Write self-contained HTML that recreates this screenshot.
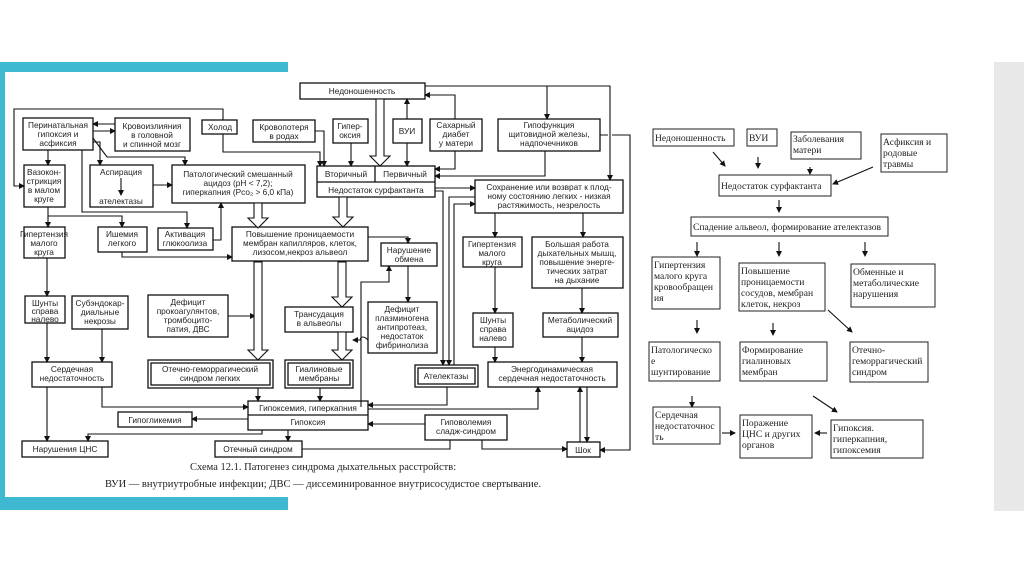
<!DOCTYPE html>
<html><head><meta charset="utf-8">
<style>
html,body{margin:0;padding:0;background:#fff;}
svg{display:block;}
.s{font-family:"Liberation Sans","DejaVu Sans",sans-serif;font-size:8.3px;fill:#222;}
.r{font-family:"Liberation Serif","DejaVu Serif",serif;font-size:9.6px;fill:#222;}
.c{font-family:"Liberation Serif","DejaVu Serif",serif;font-size:10.5px;fill:#222;}
</style></head>
<body>
<svg width="1024" height="574" viewBox="0 0 1024 574" xmlns="http://www.w3.org/2000/svg">
<defs>
<marker id="a" markerWidth="6" markerHeight="6" refX="5" refY="3" orient="auto" markerUnits="userSpaceOnUse"><path d="M0,0 L6,3 L0,6 z" fill="#111"/></marker>
</defs>
<rect x="0" y="62" width="288" height="10" fill="#3fb9d2"/>
<rect x="0" y="62" width="5" height="448" fill="#3fb9d2"/>
<rect x="0" y="497" width="288" height="13" fill="#3fb9d2"/>
<rect x="994" y="62" width="30" height="449" fill="#e8e8e8"/>

<g fill="none" stroke="#111" stroke-width="1.3">
<!-- boxes left -->
<rect x="23" y="118" width="70" height="32"/>
<rect x="115" y="118" width="75" height="33"/>
<rect x="202" y="120" width="35" height="14"/>
<rect x="253" y="120" width="62" height="22"/>
<rect x="24" y="165" width="41" height="42"/>
<rect x="90" y="165" width="63" height="42"/>
<rect x="172" y="165" width="133" height="38"/>
<rect x="24" y="227" width="41" height="31"/>
<rect x="98" y="227" width="49" height="25"/>
<rect x="158" y="228" width="55" height="22"/>
<rect x="232" y="227" width="136" height="34"/>
<rect x="300" y="83" width="125" height="16"/>
<rect x="333" y="119" width="35" height="24"/>
<rect x="393" y="119" width="29" height="24"/>
<rect x="430" y="119" width="52" height="32"/>
<rect x="498" y="119" width="102" height="32"/>
<rect x="317" y="166" width="118" height="31"/>
<line x1="317" y1="182" x2="435" y2="182"/><line x1="375" y1="166" x2="375" y2="182"/>
<rect x="475" y="180" width="148" height="33"/>
<rect x="381" y="243" width="56" height="23"/>
<rect x="463" y="237" width="59" height="30"/>
<rect x="532" y="237" width="91" height="51"/>
<rect x="25" y="296" width="40" height="27"/>
<rect x="72" y="296" width="56" height="33"/>
<rect x="148" y="295" width="80" height="42"/>
<rect x="285" y="307" width="68" height="25"/>
<rect x="368" y="302" width="69" height="51"/>
<rect x="473" y="313" width="40" height="34"/>
<rect x="543" y="313" width="75" height="24"/>
<rect x="32" y="362" width="80" height="25"/>
<rect x="148" y="360" width="125" height="28"/><rect x="151" y="363" width="119" height="22"/>
<rect x="285" y="360" width="68" height="28"/><rect x="288" y="363" width="62" height="22"/>
<rect x="415" y="365" width="63" height="22"/><rect x="418" y="368" width="57" height="16"/>
<rect x="488" y="362" width="129" height="25"/>
<rect x="248" y="401" width="120" height="29"/><line x1="248" y1="415" x2="368" y2="415"/>
<rect x="118" y="412" width="74" height="15"/>
<rect x="425" y="415" width="82" height="25"/>
<rect x="22" y="441" width="86" height="16"/>
<rect x="215" y="441" width="87" height="16"/>
<rect x="567" y="442" width="33" height="15"/>
</g>

<!-- connectors -->
<g fill="none" stroke="#111" stroke-width="1.1">
<path d="M223,120 V109 H14 V186 H24" marker-end="url(#a)"/>
<path d="M115,124 H93" marker-end="url(#a)"/><path d="M93,131 H115" marker-end="url(#a)"/>
<path d="M48,150 V165" marker-end="url(#a)"/>
<path d="M93,142 H100 V165" marker-end="url(#a)"/>
<path d="M93,138 L107,157 H185 V165" marker-end="url(#a)"/>
<path d="M82,150 V212 H187 V228" marker-end="url(#a)"/>
<path d="M48,207 V227" marker-end="url(#a)"/>
<path d="M48,216 H122 V227" marker-end="url(#a)"/>
<path d="M121,178 V195" marker-end="url(#a)"/>
<path d="M153,185 H172" marker-end="url(#a)"/>
<path d="M213,240 H221 V203" marker-end="url(#a)"/>
<path d="M122,252 V257 H232" marker-end="url(#a)"/>
<path d="M223,134 V152 H320 V166" marker-end="url(#a)"/>
<path d="M315,131 H324 V166" marker-end="url(#a)"/>
<path d="M351,143 V166" marker-end="url(#a)"/>
<path d="M407,119 V99" marker-end="url(#a)"/>
<path d="M407,143 V166" marker-end="url(#a)"/>
<path d="M455,119 V95 H425" marker-end="url(#a)"/>
<path d="M455,151 V169 H435" marker-end="url(#a)"/>
<path d="M545,151 V176 H435" marker-end="url(#a)"/>
<path d="M425,86 H610 V180" marker-end="url(#a)"/>
<path d="M547,86 V119" marker-end="url(#a)"/>
<path d="M600,135 H608 M612,135 H630 V450 H600" marker-end="url(#a)"/>
<path d="M435,188 H475" marker-end="url(#a)"/>
<path d="M435,191 H443 V365" marker-end="url(#a)"/>
<path d="M475,197 H449 V365" marker-end="url(#a)"/>
<path d="M454,365 V204 H475" marker-end="url(#a)"/>
<path d="M495,213 V237" marker-end="url(#a)"/>
<path d="M583,213 V237" marker-end="url(#a)"/>
<path d="M495,267 V313" marker-end="url(#a)"/>
<path d="M495,347 V362" marker-end="url(#a)"/>
<path d="M582,288 V313" marker-end="url(#a)"/>
<path d="M582,337 V362" marker-end="url(#a)"/>
<path d="M580,442 V387" marker-end="url(#a)"/>
<path d="M587,387 V442" marker-end="url(#a)"/>
<path d="M368,409 H538 V387" marker-end="url(#a)"/>
<path d="M447,387 V405 H368" marker-end="url(#a)"/>
<path d="M425,424 H368" marker-end="url(#a)"/>
<path d="M482,440 V449 H567" marker-end="url(#a)"/>
<path d="M302,449 H450 V440"/>
<path d="M288,430 V441" marker-end="url(#a)"/>
<path d="M262,430 V434 H88 V441" marker-end="url(#a)"/>
<path d="M248,419 H192" marker-end="url(#a)"/>
<path d="M47,258 V296" marker-end="url(#a)"/>
<path d="M47,323 V362" marker-end="url(#a)"/>
<path d="M102,329 V362" marker-end="url(#a)"/>
<path d="M47,387 V441" marker-end="url(#a)"/>
<path d="M102,387 V407 H248" marker-end="url(#a)"/>
<path d="M228,316 H255" marker-end="url(#a)"/>
<path d="M258,388 V401" marker-end="url(#a)"/>
<path d="M320,388 V401" marker-end="url(#a)"/>
<path d="M368,237 H408 V243" marker-end="url(#a)"/>
<path d="M408,266 V302" marker-end="url(#a)"/>
<path d="M361,407 V282 H389 V266" marker-end="url(#a)"/>
<path d="M368,340 Q362,334 360,340 H353" marker-end="url(#a)"/>
</g>
<!-- hollow arrows -->
<g fill="#fff" stroke="#111" stroke-width="1.1">
<path d="M254,203 H262 V218 H268 L258,228 L248,218 H254 Z"/>
<path d="M254,262 H262 V350 H268 L258,360 L248,350 H254 Z"/>
<path d="M339,197 H347 V217 H353 L343,227 L333,217 H339 Z"/>
<path d="M376,99 H384 V156 H390 L380,166 L370,156 H376 Z"/>
<path d="M338,262 H346 V297 H352 L342,307 L332,297 H338 Z"/>
<path d="M338,332 H346 V350 H352 L342,360 L332,350 H338 Z"/>
</g>

<g class="s" text-anchor="middle">
<text x="58" y="128">Перинатальная</text><text x="58" y="137">гипоксия и</text><text x="58" y="146">асфиксия</text>
<text x="152" y="129">Кровоизлияния</text><text x="152" y="138">в головной</text><text x="152" y="147">и спинной мозг</text>
<text x="220" y="130">Холод</text>
<text x="284" y="130">Кровопотеря</text><text x="284" y="139">в родах</text>
<text x="44" y="175">Вазокон-</text><text x="44" y="184">стрикция</text><text x="44" y="193">в малом</text><text x="44" y="202">круге</text>
<text x="121" y="175">Аспирация</text><text x="121" y="204">ателектазы</text>
<text x="238" y="177">Патологический смешанный</text><text x="238" y="186">ацидоз (pH &lt; 7,2);</text><text x="238" y="195">гиперкапния (Pco₂ &gt; 6,0 кПа)</text>
<text x="44" y="237">Гипертензия</text><text x="44" y="246">малого</text><text x="44" y="255">круга</text>
<text x="122" y="237">Ишемия</text><text x="122" y="246">легкого</text>
<text x="185" y="237">Активация</text><text x="185" y="246">глюкоолиза</text>
<text x="300" y="237">Повышение проницаемости</text><text x="300" y="246">мембран капилляров, клеток,</text><text x="300" y="255">лизосом,некроз альвеол</text>
<text x="362" y="94">Недоношенность</text>
<text x="350" y="129">Гипер-</text><text x="350" y="138">оксия</text>
<text x="407" y="134">ВУИ</text>
<text x="456" y="128">Сахарный</text><text x="456" y="137">диабет</text><text x="456" y="146">у матери</text>
<text x="549" y="128">Гипофункция</text><text x="549" y="137">щитовидной железы,</text><text x="549" y="146">надпочечников</text>
<text x="346" y="177">Вторичный</text><text x="405" y="177">Первичный</text>
<text x="376" y="193">Недостаток  сурфактанта</text>
<text x="549" y="190">Сохранение или возврат к плод-</text><text x="549" y="199">ному состоянию легких - низкая</text><text x="549" y="208">растяжимость, незрелость</text>
<text x="409" y="253">Нарушение</text><text x="409" y="262">обмена</text>
<text x="492" y="247">Гипертензия</text><text x="492" y="256">малого</text><text x="492" y="265">круга</text>
<text x="577" y="247">Большая работа</text><text x="577" y="256">дыхательных  мышц,</text><text x="577" y="265">повышение энерге-</text><text x="577" y="274">тических затрат</text><text x="577" y="283">на дыхание</text>
<text x="45" y="306">Шунты</text><text x="45" y="314">справа</text><text x="45" y="322">налево</text>
<text x="100" y="306">Субэндокар-</text><text x="100" y="315">диальные</text><text x="100" y="324">некрозы</text>
<text x="188" y="305">Дефицит</text><text x="188" y="314">прокоагулянтов,</text><text x="188" y="323">тромбоцито-</text><text x="188" y="332">патия, ДВС</text>
<text x="319" y="317">Трансудация</text><text x="319" y="326">в альвеолы</text>
<text x="402" y="312">Дефицит</text><text x="402" y="321">плазминогена</text><text x="402" y="330">антипротеаз,</text><text x="402" y="339">недостаток</text><text x="402" y="348">фибринолиза</text>
<text x="493" y="323">Шунты</text><text x="493" y="332">справа</text><text x="493" y="341">налево</text>
<text x="580" y="323">Метаболический</text><text x="580" y="332">ацидоз</text>
<text x="72" y="372">Сердечная</text><text x="72" y="381">недостаточность</text>
<text x="210" y="372">Отечно-геморрагический</text><text x="210" y="381">синдром легких</text>
<text x="319" y="372">Гиалиновые</text><text x="319" y="381">мембраны</text>
<text x="446" y="379">Ателектазы</text>
<text x="552" y="372">Энергодинамическая</text><text x="552" y="381">сердечная  недостаточность</text>
<text x="308" y="411">Гипоксемия, гиперкапния</text>
<text x="308" y="425">Гипоксия</text>
<text x="155" y="423">Гипогликемия</text>
<text x="466" y="425">Гиповолемия</text><text x="466" y="434">сладж-синдром</text>
<text x="65" y="452">Нарушения  ЦНС</text>
<text x="258" y="452">Отечный  синдром</text>
<text x="583" y="453">Шок</text>
</g>
<text class="c" x="190" y="470">Схема 12.1. Патогенез синдрома дыхательных расстройств:</text>
<text class="c" x="105" y="487">ВУИ — внутриутробные инфекции; ДВС — диссеминированное внутрисосудистое свертывание.</text>

<!-- right diagram -->
<g fill="none" stroke="#222" stroke-width="1">
<rect x="653" y="129" width="81" height="17"/>
<rect x="747" y="129" width="30" height="17"/>
<rect x="791" y="132" width="70" height="27"/>
<rect x="881" y="134" width="66" height="38"/>
<rect x="719" y="175" width="112" height="21"/>
<rect x="691" y="217" width="197" height="19"/>
<rect x="652" y="257" width="68" height="52"/>
<rect x="739" y="263" width="86" height="48"/>
<rect x="851" y="264" width="84" height="43"/>
<rect x="649" y="342" width="71" height="39"/>
<rect x="740" y="342" width="87" height="39"/>
<rect x="850" y="342" width="78" height="40"/>
<rect x="653" y="407" width="67" height="37"/>
<rect x="740" y="415" width="72" height="43"/>
<rect x="831" y="420" width="92" height="38"/>
</g>
<g fill="none" stroke="#111" stroke-width="1.1">
<path d="M713,152 L725,166" marker-end="url(#a)"/>
<path d="M758,157 V168" marker-end="url(#a)"/>
<path d="M810,167 V174" marker-end="url(#a)"/>
<path d="M873,167 L833,184" marker-end="url(#a)"/>
<path d="M779,200 V212" marker-end="url(#a)"/>
<path d="M697,242 V256" marker-end="url(#a)"/>
<path d="M779,242 V256" marker-end="url(#a)"/>
<path d="M865,242 V256" marker-end="url(#a)"/>
<path d="M697,320 V333" marker-end="url(#a)"/>
<path d="M773,323 V335" marker-end="url(#a)"/>
<path d="M828,310 L852,332" marker-end="url(#a)"/>
<path d="M692,396 V407" marker-end="url(#a)"/>
<path d="M813,396 L837,412" marker-end="url(#a)"/>
<path d="M722,433 H735" marker-end="url(#a)"/>
<path d="M827,433 H815" marker-end="url(#a)"/>
</g>
<g class="r">
<text x="655" y="141">Недоношенность</text>
<text x="749" y="141">ВУИ</text>
<text x="793" y="142">Заболевания</text><text x="793" y="153">матери</text>
<text x="883" y="145">Асфиксия и</text><text x="883" y="156">родовые</text><text x="883" y="167">травмы</text>
<text x="721" y="189">Недостаток сурфактанта</text>
<text x="693" y="230">Спадение альвеол, формирование ателектазов</text>
<text x="654" y="268">Гипертензия</text><text x="654" y="279">малого круга</text><text x="654" y="290">кровообращен</text><text x="654" y="301">ия</text>
<text x="741" y="274">Повышение</text><text x="741" y="285">проницаемости</text><text x="741" y="296">сосудов, мембран</text><text x="741" y="307">клеток, некроз</text>
<text x="853" y="275">Обменные и</text><text x="853" y="286">метаболические</text><text x="853" y="297">нарушения</text>
<text x="651" y="353">Патологическо</text><text x="651" y="364">е</text><text x="651" y="375">шунтирование</text>
<text x="742" y="353">Формирование</text><text x="742" y="364">гиалиновых</text><text x="742" y="375">мембран</text>
<text x="852" y="353">Отечно-</text><text x="852" y="364">геморрагический</text><text x="852" y="375">синдром</text>
<text x="655" y="418">Сердечная</text><text x="655" y="429">недостаточнос</text><text x="655" y="440">ть</text>
<text x="742" y="426">Поражение</text><text x="742" y="437">ЦНС и других</text><text x="742" y="448">органов</text>
<text x="833" y="431">Гипоксия.</text><text x="833" y="442">гиперкапния,</text><text x="833" y="453">гипоксемия</text>
</g>
</svg>
</body></html>
